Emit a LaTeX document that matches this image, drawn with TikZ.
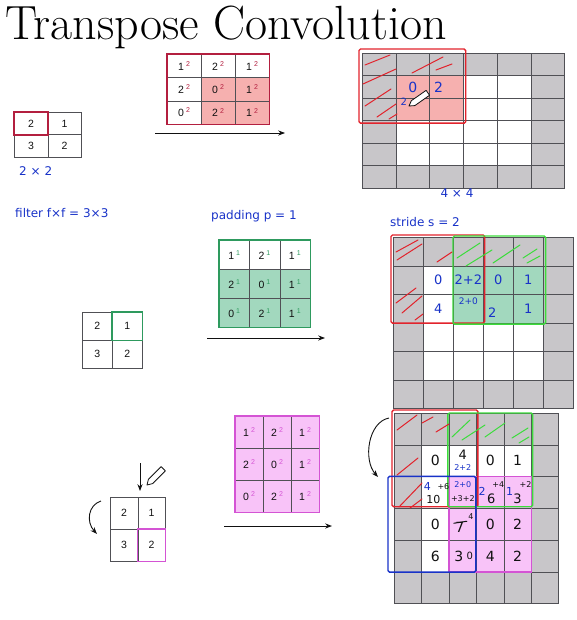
\documentclass[tikz,border=0pt]{standalone}
\usepackage{fontspec}
\setsansfont{Liberation Sans}
\newfontfamily\handfont{DejaVu Sans}
\usetikzlibrary{arrows.meta,positioning,calc}
\definecolor{ink}{HTML}{111111}
\definecolor{gridln}{HTML}{505055}
\definecolor{pad}{HTML}{C8C6C9}
\definecolor{crim}{HTML}{B31F3F}
\definecolor{rosefill}{HTML}{F6B0AF}
\definecolor{leaf}{HTML}{2E9A5E}
\definecolor{leaffill}{HTML}{A2D8BE}
\definecolor{orchid}{HTML}{D454D4}
\definecolor{orchidfill}{HTML}{F8C3F8}
\definecolor{pen}{HTML}{1832C8}
\definecolor{penred}{HTML}{E2232C}
\definecolor{pengreen}{HTML}{3CDC3C}
% padded output grid: name, corner, cell w, cell h, fill, rows from-to, cols from-to
\newcommand{\padgrid}[9]{%
  \foreach \r in {0,...,5}
    \foreach \c in {0,...,5} {
      \def\tone{pad}
      \ifnum\r>0 \ifnum\r<5 \ifnum\c>0 \ifnum\c<5 \def\tone{white}\fi\fi\fi\fi
      \ifnum\r<#6 \else \ifnum\r>#7 \else \ifnum\c<#8 \else \ifnum\c>#9 \else \def\tone{#5}\fi\fi\fi\fi
      \node[cell, fill=\tone, minimum width=#3pt, minimum height=#4pt] (#1-\r\c) at ($(#2)+({\c*#3},{\r*#4})$) {};
    }%
}
\begin{document}
\begin{tikzpicture}[x=1pt, y=-1pt,
  cell/.style={draw=gridln, line width=0.6pt, anchor=north west, inner sep=0pt, font=\sffamily\fontsize{10.5}{10.5}\selectfont, text=ink},
  msg/.style={-{Stealth[length=2.4mm]}, draw=ink, line width=1pt},
  hand/.style={font=\handfont\fontsize{12}{12}\selectfont, text=pen, inner sep=0pt},
  handbk/.style={font=\handfont\fontsize{14}{14}\selectfont, text=ink, inner sep=0pt},
  tiny/.style={font=\handfont\fontsize{8}{8}\selectfont},
  scrib/.style={line width=1pt, line cap=round},
  frame/.style={line width=1.4pt, rounded corners=1.5pt},
  pencil/.style={draw=ink, fill=white, line width=0.8pt, line join=round},
]
\useasboundingbox (0,0) rectangle (576,620);
\node[anchor=base west, inner sep=0pt, font=\fontsize{48}{50}\selectfont] (title) at (5,40) {Transpose Convolution};

% ---- row 1: first input cell
\foreach \r/\c/\v in {0/0/2,0/1/1,1/0/3,1/1/2}
  \node[cell, minimum width=33.5pt, minimum height=22.5pt] (inA-\r\c) at ({14+33.5*\c},{112+22.5*\r}) {\v};
\draw[crim, line width=1.3pt] (inA-00.north west) rectangle (inA-00.south east);
\node[hand, anchor=west] (szA) at (19,171) {2 × 2};

\foreach \r/\c/\v/\f in {0/0/1/white,0/1/2/white,0/2/1/white,1/0/2/white,1/1/0/rosefill,1/2/1/rosefill,2/0/0/white,2/1/2/rosefill,2/2/1/rosefill}
  \node[cell, fill=\f, minimum width=34pt, minimum height=23.3pt] (fA-\r\c) at ({167+34*\c},{54+23.3*\r}) {\v\hspace{2pt}\textsuperscript{\color{crim}\scriptsize 2}};
\draw[crim, line width=1.6pt] (fA-00.north west) rectangle (fA-22.south east);
\coordinate (aA1) at (155,133);
\coordinate (aA2) at (285,133);
\draw[msg, line width=0.8pt] (aA1) -- (aA2);

\padgrid{oA}{362,53}{33.7}{22.5}{rosefill}{1}{2}{1}{2}
\draw[penred, frame] ($(oA-00.north west)+(-3,-4)$) rectangle ($(oA-22.south east)+(2,2)$);
\foreach \a/\b in {{365,65}/{390,55},{363,84}/{396,69},{412,73}/{443,57},{436,70}/{452,64},{365,106}/{391,89},{377,117}/{396,104},{389,119}/{397,114}}
  \draw[penred, scrib] (\a) -- (\b);
\node[hand, font=\handfont\fontsize{14}{14}\selectfont] (vA1) at (oA-11) {0};
\node[hand, font=\handfont\fontsize{14}{14}\selectfont] (vA2) at ($(oA-12)+(-8,0)$) {2};
\node[hand, font=\handfont\fontsize{10}{10}\selectfont] (vA3) at ($(oA-21.north west)+(8,4)$) {2};
\draw[pencil, rotate around={35:(409,106)}] (409,106) -- (414,103) -- (432,103) -- (432,109) -- (414,109) -- cycle;
\node[hand, anchor=center] (szB) at (457,193) {4 × 4};

% ---- handwritten notes
\node[hand, anchor=west] (nF) at (15,213) {filter  f×f = 3×3};
\node[hand, anchor=west] (nP) at (211,216) {padding  p = 1};
\node[hand, anchor=west] (nS) at (390,222) {stride  s = 2};

% ---- row 2
\foreach \r/\c/\v in {0/0/2,0/1/1,1/0/3,1/1/2}
  \node[cell, minimum width=30pt, minimum height=28pt] (inB-\r\c) at ({82+30*\c},{312+28*\r}) {\v};
\draw[leaf, line width=1.4pt] (inB-01.north west) rectangle (inB-01.south east);

\foreach \r/\c/\v/\f in {0/0/1/white,0/1/2/white,0/2/1/white,1/0/2/leaffill,1/1/0/leaffill,1/2/1/leaffill,2/0/0/leaffill,2/1/2/leaffill,2/2/1/leaffill}
  \node[cell, fill=\f, minimum width=30.3pt, minimum height=29pt] (fB-\r\c) at ({219+30.3*\c},{240+29*\r}) {\v\hspace{2pt}\textsuperscript{\color{leaf}\scriptsize 1}};
\draw[leaf, line width=1.6pt] (fB-00.north west) rectangle (fB-22.south east);
\coordinate (aB1) at (207,338);
\coordinate (aB2) at (325,338);
\draw[msg] (aB1) -- (aB2);

\padgrid{oB}{393,237}{30}{28.5}{leaffill}{1}{2}{2}{4}
\draw[penred, frame] ($(oB-00.north west)+(-2,-2)$) rectangle ($(oB-22.south east)+(1,0)$);
\draw[pengreen, frame] ($(oB-02.north west)+(0,-1)$) rectangle ($(oB-24.south east)+(2,1)$);
\foreach \a/\b in {{396,252}/{418,240},{397,260}/{422,244},{437,262}/{452,252},{396,303}/{416,288},{402,313}/{422,296},{415,320}/{423,314}}
  \draw[penred, scrib] (\a) -- (\b);
\foreach \a/\b in {{457,258}/{480,243},{466,266}/{492,250},{493,263}/{520,245},{523,258}/{537,249},{527,263}/{540,256}}
  \draw[pengreen, scrib] (\a) -- (\b);
\foreach \r/\c/\v in {1/1/0,1/2/2+2,1/3/0,1/4/1,2/1/4,2/4/1}
  \node[hand, font=\handfont\fontsize{13}{13}\selectfont] (vB-\r\c) at (oB-\r\c) {\v};
\node[hand, font=\handfont\fontsize{9}{9}\selectfont] (vB-22) at ($(oB-22)+(0,-7)$) {2+0};
\node[hand, font=\handfont\fontsize{13}{13}\selectfont] (vB-23) at ($(oB-23)+(-6,4)$) {2};

% ---- row 3
\foreach \r/\c/\v in {0/0/2,0/1/1,1/0/3,1/1/2}
  \node[cell, minimum width=27.5pt, minimum height=32pt] (inC-\r\c) at ({110+27.5*\c},{497+32*\r}) {\v};
\draw[orchid, line width=1.4pt] (inC-11.north west) rectangle (inC-11.south east);
\coordinate (cC1) at (101,501);
\coordinate (cC2) at (97,534);
\draw[msg, line width=0.9pt] (cC1) .. controls (88,505) and (86,522) .. (cC2);
\coordinate (dC1) at (140,463);
\coordinate (dC2) at (140,491);
\draw[msg, line width=0.9pt] (dC1) -- (dC2);
\draw[pencil, rotate around={45:(147,485)}] (147,485) -- (152,482) -- (170,482) -- (170,488) -- (152,488) -- cycle;

\foreach \r/\c/\v in {0/0/1,0/1/2,0/2/1,1/0/2,1/1/0,1/2/1,2/0/0,2/1/2,2/2/1}
  \node[cell, fill=orchidfill, minimum width=28pt, minimum height=32pt] (fC-\r\c) at ({235+28*\c},{416+32*\r}) {\v\hspace{2pt}\textsuperscript{\color{orchid}\scriptsize 2}};
\draw[orchid, line width=1.6pt] (fC-00.north west) rectangle (fC-22.south east);
\coordinate (aC1) at (224,526);
\coordinate (aC2) at (332,526);
\draw[msg] (aC1) -- (aC2);

\padgrid{oC}{394,413}{27.4}{31.7}{orchidfill}{2}{4}{2}{4}
\draw[orchid, line width=1.5pt] (oC-22.north west) rectangle (oC-44.south east);
\draw[penred, frame] ($(oC-00.north west)+(-2,-3)$) rectangle ($(oC-22.south east)+(1,-2)$);
\draw[pengreen, frame] ($(oC-02.north west)+(-1,0)$) rectangle ($(oC-24.south east)+(1,-2)$);
\draw[pen, frame] ($(oC-20.north west)+(-6,0)$) rectangle ($(oC-42.south east)+(-1,0)$);
\foreach \a/\b in {{397,430}/{417,415},{422,423}/{433,417},{436,432}/{449,424},{397,475}/{418,458},{399,507}/{422,483},{410,508}/{422,499}}
  \draw[penred, scrib] (\a) -- (\b);
\foreach \a/\b in {{452,437}/{470,420},{462,440}/{485,425},{485,437}/{505,423},{512,438}/{528,428},{519,443}/{529,437}}
  \draw[pengreen, scrib] (\a) -- (\b);
\coordinate (cD1) at (389,418);
\coordinate (cD2) at (378,477);
\draw[msg, line width=0.9pt] (cD1) .. controls (368,422) and (363,460) .. (cD2);
% running sums
\foreach \r/\c/\v in {1/1/0,1/3/0,1/4/1,3/1/0,3/3/0,3/4/2,4/1/6,4/3/4,4/4/2}
  \node[handbk] (vC-\r\c) at (oC-\r\c) {\v};
\node[hand, font=\handfont\fontsize{8}{8}\selectfont] (vC-12b) at ($(oC-12)+(0,7)$) {2+2};
\node[handbk, font=\handfont\fontsize{13}{13}\selectfont] (vC-12) at ($(oC-12)+(0,-6)$) {4};
\node[hand, font=\handfont\fontsize{11}{11}\selectfont] (vC-21b) at ($(oC-21)+(-8,-6)$) {4};
\node[handbk, font=\handfont\fontsize{11}{11}\selectfont] (vC-21) at ($(oC-21)+(-2,7)$) {10};
\node[handbk, tiny] (vC-21p) at ($(oC-21)+(8,-6)$) {+6};
\node[hand, tiny] (vC-22b) at ($(oC-22)+(0,-8)$) {2+0};
\node[handbk, tiny] (vC-22) at ($(oC-22)+(0,6)$) {+3+2};
\node[hand, font=\handfont\fontsize{11}{11}\selectfont] (vC-23b) at ($(oC-23)+(-8,-1)$) {2};
\node[handbk, font=\handfont\fontsize{13}{13}\selectfont] (vC-23) at ($(oC-23)+(1,6)$) {6};
\node[handbk, tiny] (vC-23p) at ($(oC-23)+(8,-8)$) {+4};
\node[hand, font=\handfont\fontsize{11}{11}\selectfont] (vC-24b) at ($(oC-24)+(-8,-1)$) {1};
\node[handbk, font=\handfont\fontsize{13}{13}\selectfont] (vC-24) at ($(oC-24)+(0,6)$) {3};
\node[handbk, tiny] (vC-24p) at ($(oC-24)+(8,-8)$) {+2};
\node[handbk] (vC-32) at ($(oC-32)+(-3,3)$) {7};
\node[handbk, tiny] (vC-32p) at ($(oC-32)+(8,-8)$) {4};
\draw[ink, scrib] ($(oC-32)+(-9,-1)$) -- ($(oC-32)+(4,-3)$);
\node[handbk] (vC-42) at ($(oC-42)+(-4,0)$) {3};
\node[handbk, font=\handfont\fontsize{10}{10}\selectfont] (vC-42p) at ($(oC-42)+(7,0)$) {0};
\end{tikzpicture}
\end{document}
